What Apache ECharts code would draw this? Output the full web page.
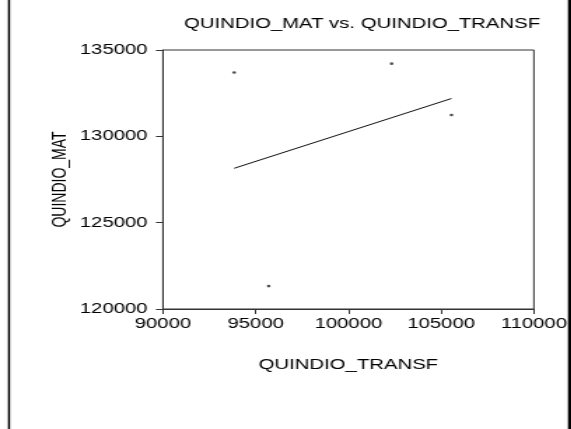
<!DOCTYPE html>
<html>
<head>
<meta charset="utf-8">
<script src="https://cdn.jsdelivr.net/npm/echarts@6/dist/echarts.min.js"></script>
<style>
  html, body { margin: 0; padding: 0; background: #fff; overflow: hidden; }
  #wrap { width: 571px; height: 429px; overflow: hidden; position: relative; }
  /* the chart is laid out narrow and widened horizontally */
  #chart { width: 408px; height: 429px; transform: scaleX(1.4); transform-origin: 0 0; }
</style>
</head>
<body>
<div id="wrap"><div id="chart"></div></div>
<script>
// Observations: QUINDIO_TRANSF (x) and QUINDIO_MAT (y)
const transf = [93840, 102330, 105555, 95700];
const mat = [133700, 134210, 131235, 121325];

// Least-squares fit line, endpoints at the smallest and largest x
const fitX = [93840, 105555];
const fitY = [128150, 132190];

// Axis ticks
const xTicks = [90000, 95000, 100000, 105000, 110000];
const yTicks = [120000, 125000, 130000, 135000];

const FONT = '"Liberation Sans", Arial, sans-serif';
const plain = v => String(v);
const chart = echarts.init(document.getElementById('chart'), null, { renderer: 'canvas' });

chart.setOption({
  backgroundColor: '#fff',
  animation: false,
  title: {
    text: 'QUINDIO_MAT vs. QUINDIO_TRANSF',
    left: 253.6,
    textAlign: 'center',
    top: 11,
    textStyle: { fontFamily: FONT, fontSize: 14.5, fontWeight: 'normal', color: '#000' }
  },
  grid: {
    left: 116.4, right: 17.3, top: 50, bottom: 120,
    show: true, borderColor: '#333', borderWidth: 1
  },
  xAxis: {
    type: 'value',
    min: xTicks[0], max: xTicks[xTicks.length - 1], interval: 5000,
    name: 'QUINDIO_TRANSF',
    nameLocation: 'middle',
    nameGap: 48,
    nameMoveOverlap: false,
    nameTextStyle: { fontFamily: FONT, fontSize: 14.5, color: '#000' },
    axisLine: { show: true, lineStyle: { color: '#333', width: 1 } },
    axisTick: { show: true, length: 5, inside: false, lineStyle: { color: '#333' } },
    axisLabel: { fontFamily: FONT, fontSize: 14.5, color: '#000', margin: 7, formatter: plain },
    splitLine: { show: false }
  },
  yAxis: {
    type: 'value',
    min: yTicks[0], max: yTicks[yTicks.length - 1], interval: 5000,
    name: 'QUINDIO_MAT',
    nameLocation: 'middle',
    nameGap: 66,
    nameMoveOverlap: false,
    nameRotate: 90,
    nameTextStyle: { fontFamily: FONT, fontSize: 14, color: '#000' },
    axisLine: { show: true, lineStyle: { color: '#333', width: 1 } },
    axisTick: { show: true, length: 5, inside: false, lineStyle: { color: '#333' } },
    axisLabel: { fontFamily: FONT, fontSize: 14.5, color: '#000', margin: 11, formatter: plain },
    splitLine: { show: false }
  },
  series: [
    {
      type: 'scatter',
      data: transf.map((x, i) => [x, mat[i]]),
      symbol: 'circle',
      symbolSize: 2.6,
      itemStyle: { color: '#222' }
    },
    {
      type: 'line',
      data: fitX.map((x, i) => [x, fitY[i]]),
      symbol: 'none',
      lineStyle: { color: '#111', width: 1 }
    }
  ],
  graphic: [
    { type: 'rect', shape: { x: 5.7, y: 0, width: 1.5, height: 429 }, style: { fill: '#000' } },
    { type: 'rect', shape: { x: 405.7, y: 0, width: 3, height: 429 }, style: { fill: '#000' } }
  ]
});
</script>
</body>
</html>
